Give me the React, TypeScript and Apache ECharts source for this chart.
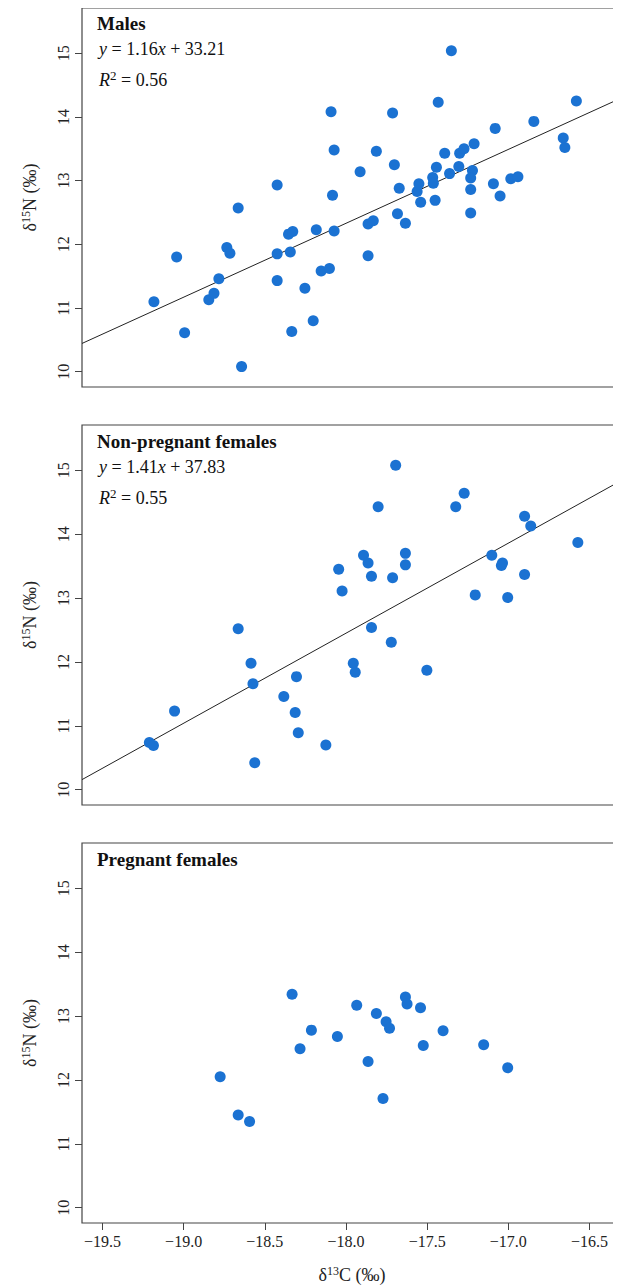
import React, { useEffect, useRef } from 'react';
import * as echarts from 'echarts';

// [δ13C, δ15N]
const males = [
  [-19.183, 11.10], [-19.043, 11.80], [-18.994, 10.61], [-18.845, 11.13], [-18.813, 11.23],
  [-18.783, 11.46], [-18.734, 11.95], [-18.715, 11.86], [-18.664, 12.57], [-18.643, 10.08],
  [-18.424, 12.93], [-18.424, 11.85], [-18.424, 11.43], [-18.354, 12.16], [-18.328, 12.20],
  [-18.343, 11.88], [-18.334, 10.63], [-18.253, 11.31], [-18.202, 10.80], [-18.183, 12.23],
  [-18.153, 11.58], [-18.102, 11.62], [-18.092, 14.08], [-18.073, 13.48], [-18.083, 12.77],
  [-18.073, 12.21], [-17.913, 13.14], [-17.864, 12.32], [-17.832, 12.37], [-17.864, 11.82],
  [-17.813, 13.46], [-17.713, 14.06], [-17.702, 13.25], [-17.683, 12.48], [-17.672, 12.88],
  [-17.634, 12.33], [-17.562, 12.83], [-17.551, 12.95], [-17.540, 12.66], [-17.466, 13.05],
  [-17.462, 12.96], [-17.451, 12.69], [-17.443, 13.21], [-17.432, 14.23], [-17.392, 13.43],
  [-17.362, 13.11], [-17.351, 15.04], [-17.305, 13.22], [-17.300, 13.43], [-17.273, 13.50],
  [-17.211, 13.58], [-17.221, 13.16], [-17.232, 13.04], [-17.232, 12.86], [-17.232, 12.49],
  [-17.092, 12.95], [-17.081, 13.82], [-17.051, 12.76], [-16.985, 13.03], [-16.941, 13.06],
  [-16.843, 13.93], [-16.662, 13.67], [-16.652, 13.52], [-16.581, 14.25],
];

const nonPregnant = [
  [-17.694, 15.08], [-17.272, 14.64], [-17.802, 14.43], [-17.324, 14.43], [-16.900, 14.28],
  [-16.862, 14.13], [-16.572, 13.87], [-17.892, 13.67], [-17.864, 13.55], [-17.634, 13.70],
  [-17.634, 13.52], [-17.102, 13.67], [-17.036, 13.55], [-17.043, 13.51], [-18.045, 13.45],
  [-17.843, 13.34], [-17.713, 13.32], [-16.900, 13.37], [-18.024, 13.11], [-17.204, 13.05],
  [-17.004, 13.01], [-18.664, 12.52], [-17.843, 12.54], [-17.721, 12.31], [-18.585, 11.98],
  [-17.955, 11.98], [-17.943, 11.84], [-17.502, 11.87], [-18.573, 11.66], [-18.305, 11.77],
  [-18.383, 11.46], [-18.313, 11.21], [-18.294, 10.89], [-18.124, 10.70], [-19.056, 11.23],
  [-19.211, 10.74], [-19.186, 10.69], [-18.562, 10.42],
];

const pregnant = [
  [-18.332, 13.34], [-17.934, 13.17], [-17.813, 13.04], [-17.634, 13.30], [-17.624, 13.19],
  [-17.541, 13.13], [-17.753, 12.91], [-17.732, 12.81], [-18.213, 12.78], [-18.053, 12.68],
  [-17.402, 12.77], [-18.283, 12.49], [-17.524, 12.54], [-17.152, 12.55], [-17.864, 12.29],
  [-17.004, 12.19], [-18.775, 12.05], [-17.772, 11.71], [-18.664, 11.45], [-18.594, 11.35],
];

const panelTitles = ['Males', 'Non-pregnant females', 'Pregnant females'];
const fits = [
  { slope: 1.16, intercept: 33.21, eq: '1.16', b: '33.21', r2: '0.56' },
  { slope: 1.41, intercept: 37.83, eq: '1.41', b: '37.83', r2: '0.55' },
  null,
];
const xTicks = [-19.5, -19.0, -18.5, -18.0, -17.5, -17.0, -16.5];
const yTicks = [10, 11, 12, 13, 14, 15];

const X_MIN = -19.626;
const X_MAX = -16.3;
const Y_MIN = 9.76;
const Y_MAX = 15.71;
// page coords minus the 8px body margin
const tops = [-1, 417, 835];
const GRID_H = 380;
const GRID_L = 74;
const FONT = '"Liberation Serif", "DejaVu Serif", serif';

const App = () => {
  const ref = useRef<HTMLDivElement>(null);

  useEffect(() => {
    if (!ref.current) return;
    document.body.style.overflow = 'hidden';
    const chart = echarts.init(ref.current, null, { renderer: 'svg' });
    const datasets = [males, nonPregnant, pregnant];

    // plot area runs past the right edge of the window, as in the original
    const grid = tops.map((t) => ({
      left: GRID_L, width: 540, top: t, height: GRID_H,
      show: true, borderColor: '#444', borderWidth: 1.2, backgroundColor: 'transparent',
    }));

    const sup = {
      a: { fontFamily: FONT, fontSize: 18, color: '#222' },
      s: { fontFamily: FONT, fontSize: 12, color: '#222', verticalAlign: 'top', padding: [0, 0, 8, 0] },
    };

    const xAxis = tops.map((_, i) => ({
      type: 'value', gridIndex: i, min: X_MIN, max: X_MAX,
      splitLine: { show: false },
      axisLine: { show: false },
      axisTick: { show: i === 2, length: 7, lineStyle: { color: '#444' }, customValues: xTicks },
      axisLabel: {
        show: i === 2, customValues: xTicks, margin: 10,
        fontFamily: FONT, fontSize: 16, color: '#222',
        formatter: (v: number) => v.toFixed(1).replace('-', '\u2212'),
      },
      name: i === 2 ? '{a|δ}{s|13}{a|C (‰)}' : '',
      nameLocation: 'middle', nameGap: 42,
      nameTextStyle: { rich: sup },
    }));

    const yAxis = tops.map((_, i) => ({
      type: 'value', gridIndex: i, min: Y_MIN, max: Y_MAX,
      splitLine: { show: false },
      axisLine: { show: false },
      axisTick: { show: true, length: 7, lineStyle: { color: '#444' }, customValues: yTicks },
      axisLabel: {
        customValues: yTicks, rotate: 90, margin: 11,
        fontFamily: FONT, fontSize: 16, color: '#222',
      },
      name: '{a|δ}{s|15}{a|N (‰)}',
      nameLocation: 'middle', nameGap: 42, nameRotate: 90,
      nameTextStyle: { rich: sup },
    }));

    const series: any[] = [];
    datasets.forEach((d, i) => {
      series.push({
        type: 'scatter', xAxisIndex: i, yAxisIndex: i, data: d,
        symbolSize: 11, itemStyle: { color: '#1b72d2', opacity: 1 }, z: 3,
      });
      const f = fits[i];
      if (f) {
        series.push({
          type: 'line', xAxisIndex: i, yAxisIndex: i, symbol: 'none', z: 2,
          lineStyle: { color: '#222', width: 1 },
          data: [[X_MIN, f.slope * X_MIN + f.intercept], [X_MAX, f.slope * X_MAX + f.intercept]],
        });
      }
    });

    const rich = {
      t: { fontFamily: FONT, fontSize: 18, fill: '#111' },
      i: { fontFamily: FONT, fontSize: 18, fontStyle: 'italic', fill: '#111' },
      s: { fontFamily: FONT, fontSize: 13, fill: '#111', verticalAlign: 'top', padding: [0, 0, 8, 0] },
    };
    const graphic: any[] = [];
    tops.forEach((t, i) => {
      graphic.push({
        type: 'text', left: GRID_L + 15, top: t + 7,
        style: { text: panelTitles[i], fontFamily: FONT, fontSize: 19, fontWeight: 'bold', fill: '#111' },
      });
      const f = fits[i];
      if (f) {
        graphic.push({
          type: 'text', left: GRID_L + 17, top: t + 33,
          style: { text: `{i|y}{t| = ${f.eq}}{i|x}{t| + ${f.b}}`, rich },
        });
        graphic.push({
          type: 'text', left: GRID_L + 17, top: t + 62,
          style: { text: `{i|R}{s|2}{t| = ${f.r2}}`, rich },
        });
      }
    });

    chart.setOption({ animation: false, grid, xAxis, yAxis, series, graphic } as any);
    return () => chart.dispose();
  }, []);

  return <div ref={ref} style={{ width: 620, height: 1280 }} />;
};

export default App;
